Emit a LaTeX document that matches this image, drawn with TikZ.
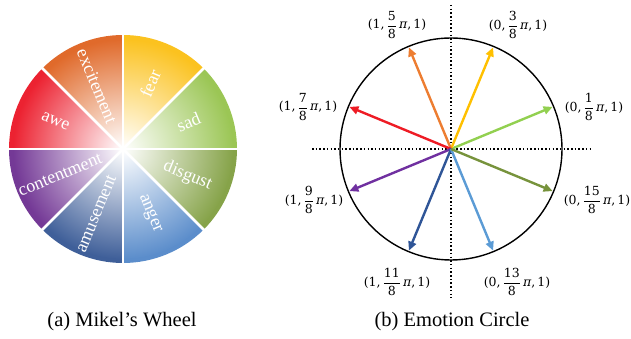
\documentclass[tikz,border=0pt]{standalone}
\usepackage{amsmath}
\usepackage{fontspec}
\setmainfont{Liberation Serif}
\newfontfamily\labfont{DejaVu Serif}
\usetikzlibrary{arrows.meta}
\definecolor{fearc}{HTML}{FBC21F}
\definecolor{sadc}{HTML}{9BC655}
\definecolor{disgc}{HTML}{86A349}
\definecolor{angc}{HTML}{5B8DCB}
\definecolor{amuc}{HTML}{3F5F99}
\definecolor{contc}{HTML}{743996}
\definecolor{awec}{HTML}{EC2231}
\definecolor{excc}{HTML}{E06A2B}
\definecolor{a1}{HTML}{92D050}
\definecolor{a3}{HTML}{FFC000}
\definecolor{a5}{HTML}{ED7D31}
\definecolor{a7}{HTML}{EE1C25}
\definecolor{a9}{HTML}{7030A0}
\definecolor{a11}{HTML}{2F5597}
\definecolor{a13}{HTML}{5B9BD5}
\definecolor{a15}{HTML}{77933C}
\newcommand\emlab[3]{(#1,\,$\genfrac{}{}{0.8pt}{0}{\mbox{#2}}{\mbox{#3}}$\,{\itshape π},\,1)}
\tikzset{
  wlab/.style={text=white, font=\fontsize{18}{18}\selectfont, inner sep=0pt},
  arr/.style={line width=2.4pt, -{Triangle[length=9pt,width=8pt]}},
  axisline/.style={line width=1.5pt, dash pattern=on 1.5pt off 2.2pt},
  mlab/.style={font=\labfont\fontsize{12.5}{15}\selectfont, inner sep=0pt},
  captxt/.style={font=\fontsize{20.5}{22}\selectfont, inner sep=0pt}
}
\begin{document}
\begin{tikzpicture}[x=1pt,y=1pt]
\useasboundingbox (0,0) rectangle (631,339);
% ---------- Mikel's wheel ----------
\coordinate (W) at (123,190);
\foreach \a/\col in {45/fearc, 0/sadc, -45/disgc, -90/angc, -135/amuc, 180/contc, 135/awec, 90/excc} {
  \begin{scope}
    \clip (W) -- ++(\a:114) arc[start angle=\a, end angle=\a+45, radius=114] -- cycle;
    \fill[\col] (W) circle[radius=116];
    \shade[inner color=white, outer color=\col] (W) circle[radius=110];
  \end{scope}
}
\foreach \a in {0,45,...,315} \draw[white, line width=2.5pt] (W) -- ++(\a:116);
\node[wlab, rotate=67.5]  (wfear) at ([shift={(67.5:71)}]W)  {fear};
\node[wlab, rotate=22.5]  (wsad)  at ([shift={(22.5:71)}]W)  {sad};
\node[wlab, rotate=-22.5] (wdis)  at ([shift={(-22.5:70)}]W) {disgust};
\node[wlab, rotate=-67.5] (wang)  at ([shift={(-67.5:70)}]W) {anger};
\node[wlab, rotate=67.5]  (wamu)  at ([shift={(247.5:70)}]W) {amusement};
\node[wlab, rotate=22.5]  (wcon)  at ([shift={(202.5:68)}]W) {contentment};
\node[wlab, rotate=-22.5] (wawe)  at ([shift={(157.5:73)}]W) {awe};
\node[wlab, rotate=-67.5] (wexc)  at ([shift={(112.5:68)}]W) {excitement};
% ---------- Emotion circle ----------
\coordinate (O) at (451,190);
\coordinate (xl) at (312,190);
\coordinate (xr) at (593,190);
\coordinate (yt) at (451,334);
\coordinate (yb) at (451,41);
\draw[axisline] (xl) -- (xr);
\draw[axisline] (yt) -- (yb);
\draw[line width=1.4pt] (O) circle[radius=111];
\foreach \a/\c in {22.5/a1, 67.5/a3, 112.5/a5, 157.5/a7, 202.5/a9, 247.5/a11, 292.5/a13, 337.5/a15}
  \draw[arr, \c] (O) -- ([shift={(\a:110)}]O);
\node[mlab] (l1)  at (594,232) {\emlab{0}{1}{8}};
\node[mlab] (l3)  at (518,314) {\emlab{0}{3}{8}};
\node[mlab] (l5)  at (397,314) {\emlab{1}{5}{8}};
\node[mlab] (l7)  at (308,232) {\emlab{1}{7}{8}};
\node[mlab] (l9)  at (314,139) {\emlab{1}{9}{8}};
\node[mlab] (l11) at (397,57)  {\emlab{1}{11}{8}};
\node[mlab] (l13) at (517,57)  {\emlab{0}{13}{8}};
\node[mlab] (l15) at (597,139) {\emlab{0}{15}{8}};
% ---------- captions ----------
\node[captxt] (ca) at (122,17) {(a) Mikel’s Wheel};
\node[captxt] (cb) at (452,17) {(b) Emotion Circle};
\end{tikzpicture}
\end{document}
